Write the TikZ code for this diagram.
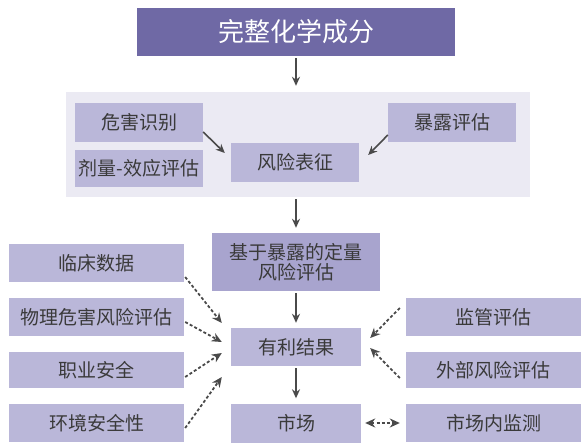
\documentclass[tikz,border=0pt]{standalone}
\usepackage{fontspec}
\setmainfont{Noto Sans CJK SC}
\usetikzlibrary{arrows.meta}
\definecolor{topc}{HTML}{6F69A5}
\definecolor{boxc}{HTML}{BAB7D9}
\definecolor{qrac}{HTML}{A8A4CE}
\definecolor{panelc}{HTML}{EBEAF3}
\definecolor{txtc}{HTML}{3A3A3A}
\definecolor{arrc}{HTML}{4A4A4A}
\tikzset{
  bx/.style={fill=boxc, draw=none, text=txtc, font=\fontsize{19}{22}\selectfont, inner sep=0pt, align=center},
  arr/.style={draw=arrc, line width=1.6pt, -{Stealth[length=9pt,width=8pt]}},
  darr/.style={draw=arrc, line width=1.8pt, dash pattern=on 3pt off 2.2pt, -{Stealth[length=10pt,width=9pt]}},
  ddarr/.style={draw=arrc, line width=1.8pt, dash pattern=on 3pt off 2.2pt, {Stealth[length=10pt,width=9pt]}-{Stealth[length=10pt,width=9pt]}}
}
\begin{document}
\begin{tikzpicture}[x=1pt,y=-1pt]
\useasboundingbox[fill=white] (0,0) rectangle (587,445);
\node[fill=panelc, minimum width=464pt, minimum height=105pt, inner sep=0pt] (panel) at (298,144.5) {};
\node[fill=topc, text=white, font=\fontsize{26}{30}\selectfont, minimum width=318pt, minimum height=48pt, inner sep=0pt] (top) at (296,32) {完整化学成分};
\node[bx, minimum width=128pt, minimum height=39pt] (hazard) at (139,122.5) {危害识别};
\node[bx, minimum width=128pt, minimum height=37pt] (dose) at (139,168.5) {剂量-效应评估};
\node[bx, minimum width=128pt, minimum height=39pt] (risk) at (295,162.5) {风险表征};
\node[bx, minimum width=128pt, minimum height=39pt] (expo) at (452,122.5) {暴露评估};
\node[bx, fill=qrac, minimum width=168pt, minimum height=58pt] (qra) at (296,262) {基于暴露的定量\\[-2pt]风险评估};
\node[bx, minimum width=130pt, minimum height=38pt] (benefit) at (296,347) {有利结果};
\node[bx, minimum width=130pt, minimum height=39pt] (market) at (296,423) {市场};
\node[bx, minimum width=175pt, minimum height=38pt] (clinic) at (96.5,263) {临床数据};
\node[bx, minimum width=175pt, minimum height=38pt] (phys) at (96.5,317) {物理危害风险评估};
\node[bx, minimum width=175pt, minimum height=36pt] (occ) at (96.5,370) {职业安全};
\node[bx, minimum width=175pt, minimum height=38pt] (env) at (96.5,423) {环境安全性};
\node[bx, minimum width=175pt, minimum height=38pt] (reg) at (493.5,317) {监管评估};
\node[bx, minimum width=175pt, minimum height=36pt] (ext) at (493.5,370) {外部风险评估};
\node[bx, minimum width=175pt, minimum height=38pt] (mon) at (493.5,423) {市场内监测};
% solid arrows
\draw[arr] ([yshift=-2pt]top.south) -- ([yshift=6pt]top.south |- panel.north);
\draw[arr] ([yshift=-9.5pt]hazard.east) -- ([xshift=-6pt,yshift=9.5pt]risk.west);
\draw[arr] ([yshift=-12.5pt]expo.west) -- ([xshift=9pt,yshift=7.5pt]risk.east);
\draw[arr] ([yshift=-2pt]qra.north |- panel.south) -- ([yshift=5pt]qra.north);
\draw[arr] ([yshift=-2pt]qra.south) -- ([yshift=5pt]benefit.north);
\draw[arr] ([yshift=-2pt]benefit.south) -- ([yshift=5pt]market.north);
% dotted arrows
\draw[darr] ([xshift=1pt,yshift=-14pt]clinic.east) -- ([xshift=-9pt,yshift=24pt]benefit.west);
\draw[darr] ([xshift=1pt,yshift=-5pt]phys.east) -- ([xshift=-9pt,yshift=5pt]benefit.west);
\draw[darr] ([xshift=1pt,yshift=-7pt]occ.east) -- ([xshift=-9pt,yshift=-6pt]benefit.west);
\draw[darr] ([xshift=1pt,yshift=-5pt]env.east) -- ([xshift=-9pt,yshift=-30pt]benefit.west);
\draw[darr] ([xshift=-6pt,yshift=9pt]reg.west) -- ([xshift=9pt,yshift=9pt]benefit.east);
\draw[darr] ([xshift=-6pt,yshift=-8pt]ext.west) -- ([xshift=9pt,yshift=-1pt]benefit.east);
\draw[ddarr] ([xshift=4pt]market.east) -- ([xshift=-6pt]mon.west);
\end{tikzpicture}
\end{document}
